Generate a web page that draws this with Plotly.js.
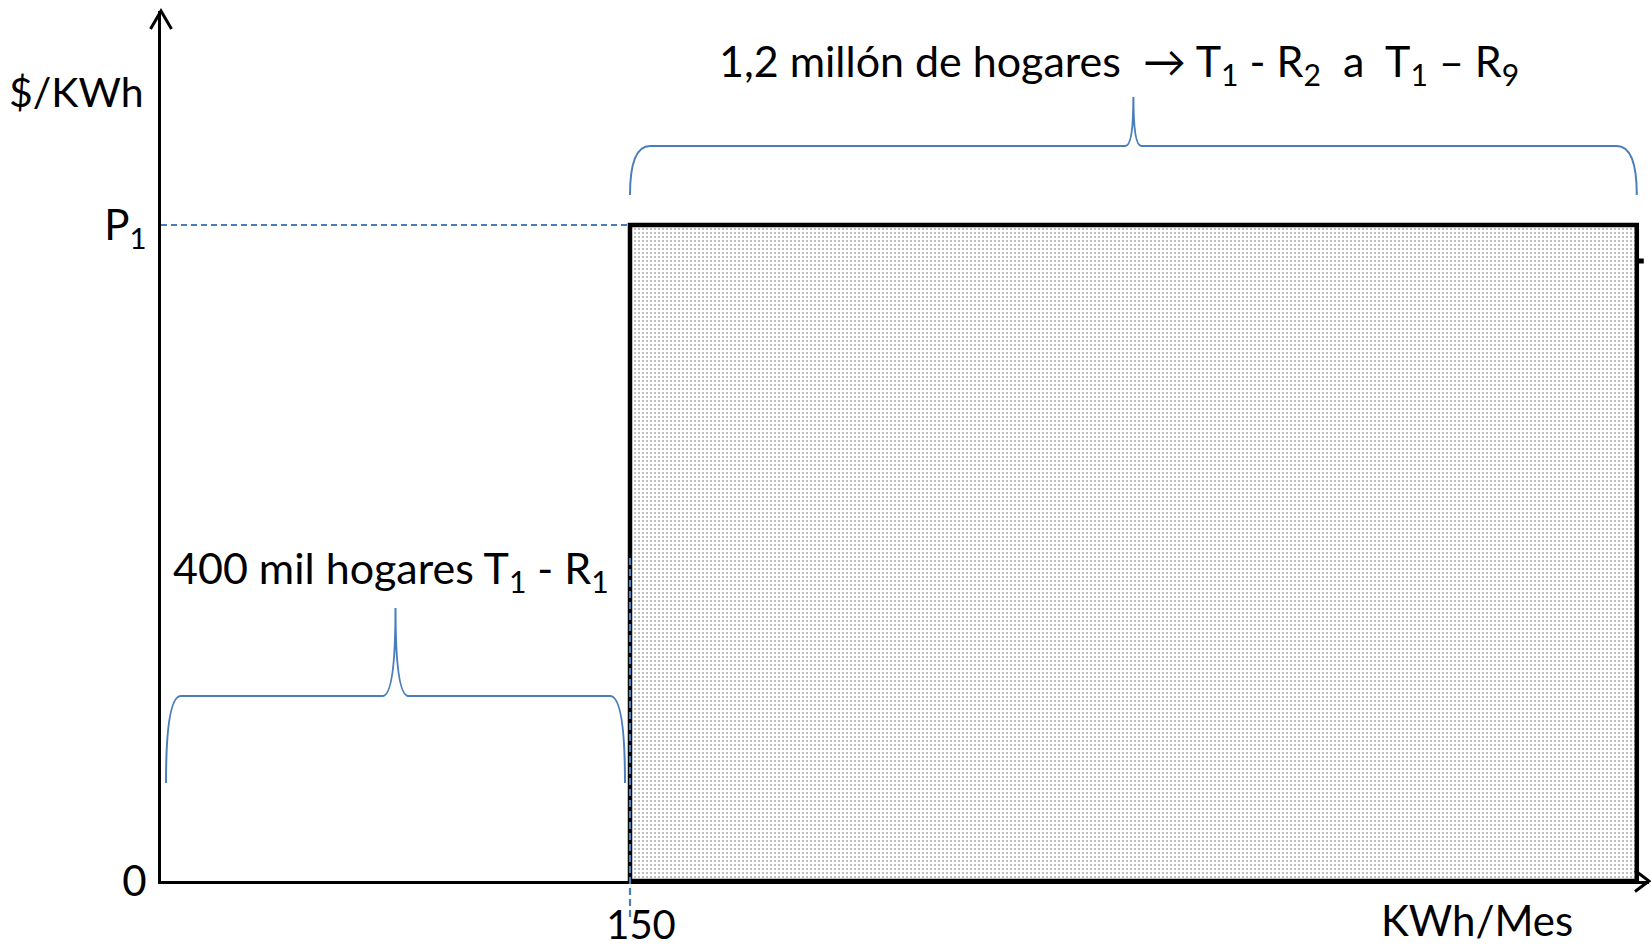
<!DOCTYPE html>
<html><head><meta charset="utf-8">
<script src="https://cdn.plot.ly/plotly-3.0.1.min.js"></script>
<style>html,body{margin:0;padding:0;background:#fff}#chart{width:1651px;height:945px}</style>
</head><body><div id="chart"></div>
<script>
// ---------- data ----------
const thresholdKWh = 150;          // consumption threshold, KWh/Mes
const blockEndKWh = 472;           // right end of the shaded block
const priceP1 = 1;                 // symbolic price level P1
const xTickVals = [150];
const xTickText = ['150'];
const yTickVals = [0, 1];
const yTickText = ['0', 'P<sub>1</sub>'];
const groupLabels = [
  '400 mil hogares T<sub>1</sub> - R<sub>1</sub>',
  '1,2 millón de hogares\u00a0 → T<sub>1</sub> - R<sub>2</sub>\u00a0 a\u00a0 T<sub>1</sub> – R<sub>9</sub>'
];
const groupFrom = [0, 150];
const groupTo = [150, 472];
const yAxisLabel = '$/KWh';
const xAxisLabel = 'KWh/Mes';

// ---------- layout geometry (pixels) ----------
const W = 1651, H = 945;
const M = {l: 161, r: 2, t: 11, b: 64};
const plotW = W - M.l - M.r, plotH = H - M.t - M.b;
const pxPerX = 469 / 150;                 // px per KWh unit
const pxPerY = 656 / priceP1;             // px per price unit
const xMax = plotW / pxPerX;
const yMax = plotH / pxPerY;
const x0px = M.l, y0px = H - M.b;
const yFromPx = py => (y0px - py) / pxPerY;
const dx = px => px / pxPerX;

const FONT = 'Lato, "Open Sans", sans-serif';
const BLUE = '#4a7ebb';

// brace styles per group: end / bar / tip pixel rows, end-curve width, tip half width, inset
const braceStyle = [
  {end: 783, bar: 696, tip: 608, rx: 15, tw: 13, inset: 5, labelY: 570, labelShift: -5},
  {end: 195, bar: 146, tip: 97, rx: 20, tw: 8, inset: 0, labelY: 63, labelShift: -14}
];

function bracePath(a, b, s) {
  const x0 = a + dx(s.inset), x1 = b - dx(s.inset), xm = (x0 + x1) / 2;
  const yE = yFromPx(s.end), yH = yFromPx(s.bar), yT = yFromPx(s.tip);
  const rx = dx(s.rx), tw = dx(s.tw);
  return `M${x0},${yE} Q${x0},${yH} ${x0 + rx},${yH} L${xm - tw},${yH} Q${xm},${yH} ${xm},${yT} ` +
         `Q${xm},${yH} ${xm + tw},${yH} L${x1 - rx},${yH} Q${x1},${yH} ${x1},${yE}`;
}

const traces = [{
  type: 'scatter', mode: 'lines',
  x: [thresholdKWh, thresholdKWh, blockEndKWh, blockEndKWh, thresholdKWh],
  y: [0, priceP1, priceP1, 0, 0],
  fill: 'toself',
  fillcolor: '#ffffff',
  fillpattern: {shape: '.', fgcolor: '#b0b0b0', bgcolor: '#ffffff', size: 4, solidity: 0.22},
  line: {color: '#000000', width: 4.5},
  hoverinfo: 'skip', showlegend: false
}];

const shapes = [
  // dashed P1 guide
  {type: 'line', xref: 'x', yref: 'y', x0: 0, x1: thresholdKWh, y0: priceP1, y1: priceP1,
   line: {color: BLUE, width: 2, dash: '6px,4px'}, layer: 'above'},
  // dashed threshold guide
  {type: 'line', xref: 'x', yref: 'paper', x0: thresholdKWh, x1: thresholdKWh,
   y0: (y0px - 917) / plotH, y1: (y0px - 556) / plotH,
   line: {color: BLUE, width: 2.2, dash: '7px,4px'}, layer: 'above'},
  // small tick at the right edge of the block
  {type: 'line', xref: 'x', yref: 'y', x0: blockEndKWh, x1: blockEndKWh + dx(7),
   y0: yFromPx(261), y1: yFromPx(261), line: {color: '#000', width: 5}, layer: 'above'},
  // arrow heads of the axes (pixel-sized chevrons anchored at axis ends)
  {type: 'path', xref: 'paper', yref: 'paper', xsizemode: 'pixel', ysizemode: 'pixel',
   xanchor: 0, yanchor: 1, path: 'M-10.5,-18 L0,0 L10.5,-18',
   line: {color: '#000', width: 3}, layer: 'above'},
  {type: 'path', xref: 'paper', yref: 'paper', xsizemode: 'pixel', ysizemode: 'pixel',
   xanchor: 1, yanchor: 0, path: 'M-14,10.5 L0,0 L-14,-10.5',
   line: {color: '#000', width: 3}, layer: 'above'}
];
groupFrom.forEach((a, i) => {
  shapes.push({type: 'path', xref: 'x', yref: 'y', path: bracePath(a, groupTo[i], braceStyle[i]),
               line: {color: BLUE, width: 2}, layer: 'above'});
});

const annotations = [
  {xref: 'paper', yref: 'paper', x: (146 - x0px) / plotW, y: (y0px - 92) / plotH,
   xanchor: 'right', yanchor: 'middle', text: yAxisLabel, showarrow: false,
   font: {family: FONT, size: 41, color: '#000'}},
  {xref: 'paper', yref: 'paper', x: (1477 - x0px) / plotW, y: (y0px - 920) / plotH,
   xanchor: 'center', yanchor: 'middle', text: xAxisLabel, showarrow: false,
   font: {family: FONT, size: 42, color: '#000'}}
];
groupLabels.forEach((t, i) => {
  const s = braceStyle[i];
  annotations.push({xref: 'x', yref: 'y', x: (groupFrom[i] + groupTo[i]) / 2, y: yFromPx(s.labelY),
    xshift: s.labelShift, xanchor: 'center', yanchor: 'middle', text: t, showarrow: false,
    font: {family: FONT, size: 43, color: '#000'}});
});

const layout = {
  width: W, height: H, margin: M,
  paper_bgcolor: '#ffffff', plot_bgcolor: '#ffffff',
  showlegend: false,
  font: {family: FONT, color: '#000'},
  xaxis: {range: [0, xMax], showgrid: false, zeroline: false, showline: true,
          linecolor: '#000', linewidth: 3, tickvals: xTickVals, ticktext: xTickText,
          ticks: '', tickfont: {family: FONT, size: 40, color: '#000'},
          ticklabelstandoff: 7, ticklabelshift: 11, fixedrange: true},
  yaxis: {range: [0, yMax], showgrid: false, zeroline: false, showline: true,
          linecolor: '#000', linewidth: 3, tickvals: yTickVals, ticktext: yTickText,
          ticks: '', tickfont: {family: FONT, size: 42, color: '#000'},
          ticklabelstandoff: 3, fixedrange: true},
  shapes: shapes,
  annotations: annotations
};

Plotly.newPlot('chart', traces, layout, {displayModeBar: false, staticPlot: true});
</script>
</body></html>
